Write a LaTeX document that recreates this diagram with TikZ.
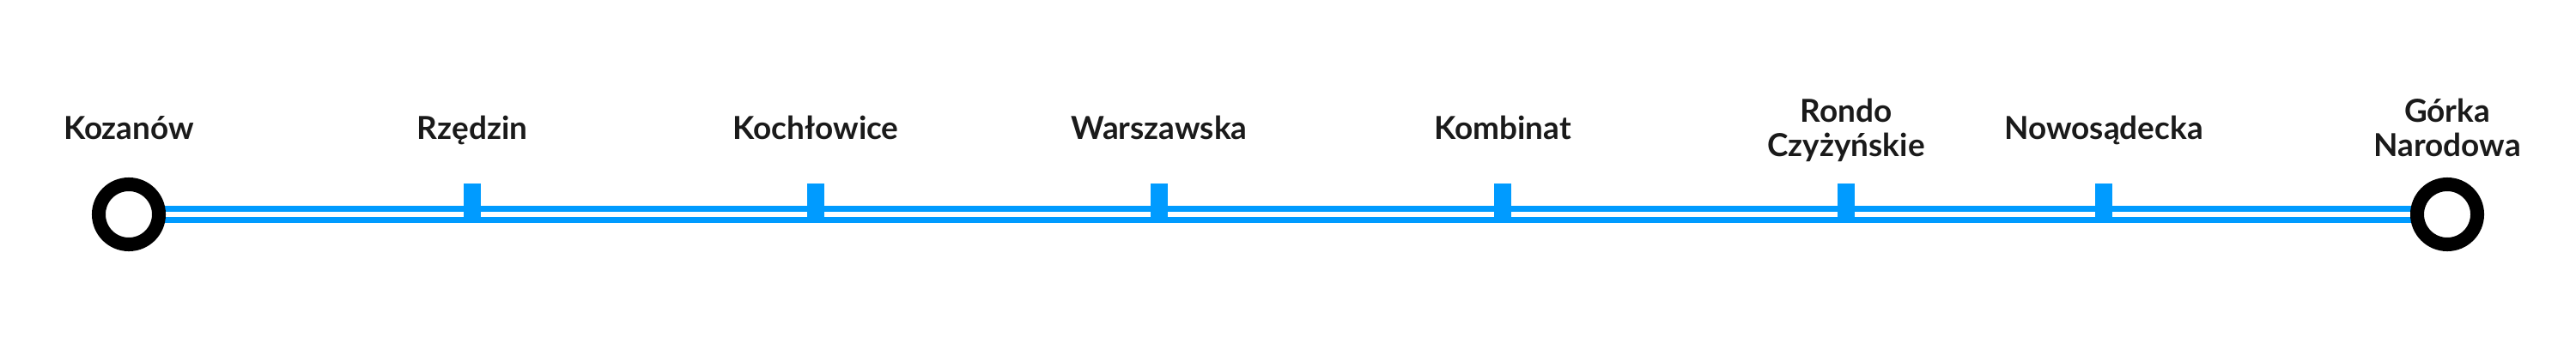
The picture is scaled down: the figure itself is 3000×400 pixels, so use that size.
\documentclass[tikz,border=0pt]{standalone}
\usepackage{fontspec}
\setmainfont{Lato}
\definecolor{lineblue}{RGB}{0,155,255}
\definecolor{txt}{RGB}{26,26,26}
\begin{document}
\begin{tikzpicture}[x=0.01cm,y=-0.01cm,
  track/.style={lineblue,line width=0.067cm},
  tick/.style={rectangle,fill=lineblue,inner sep=0pt,minimum width=0.2cm,minimum height=0.46cm},
  terminus/.style={circle,draw=black,fill=white,line width=0.16cm,inner sep=0pt,minimum size=0.7cm},
  lbl/.style={text=txt,inner sep=0pt,align=center,anchor=base,font=\bfseries\fontsize{10.5pt}{11.1pt}\selectfont}]
\useasboundingbox (0,0) rectangle (3000,400);
\coordinate (kozanow) at (150,250);
\coordinate (gorka) at (2850,250);
\draw[track] ([yshift=0.067cm]kozanow) -- ([yshift=0.067cm]gorka);
\draw[track] ([yshift=-0.067cm]kozanow) -- ([yshift=-0.067cm]gorka);
\node[tick] (t1) at (550,237) {};
\node[tick] (t2) at (950,237) {};
\node[tick] (t3) at (1350,237) {};
\node[tick] (t4) at (1750,237) {};
\node[tick] (t5) at (2150,237) {};
\node[tick] (t6) at (2450,237) {};
\node[terminus] (c1) at (kozanow) {};
\node[terminus] (c2) at (gorka) {};
\node[lbl] (l0) at (150,162) {Kozanów};
\node[lbl] (l1) at (550,162) {Rzędzin};
\node[lbl] (l2) at (950,162) {Kochłowice};
\node[lbl] (l3) at (1350,162) {Warszawska};
\node[lbl] (l4) at (1750,162) {Kombinat};
\node[lbl] (l5) at (2150,182) {Rondo\\Czyżyńskie};
\node[lbl] (l6) at (2450,162) {Nowosądecka};
\node[lbl] (l7) at (2850,182) {Górka\\Narodowa};
\end{tikzpicture}
\end{document}
